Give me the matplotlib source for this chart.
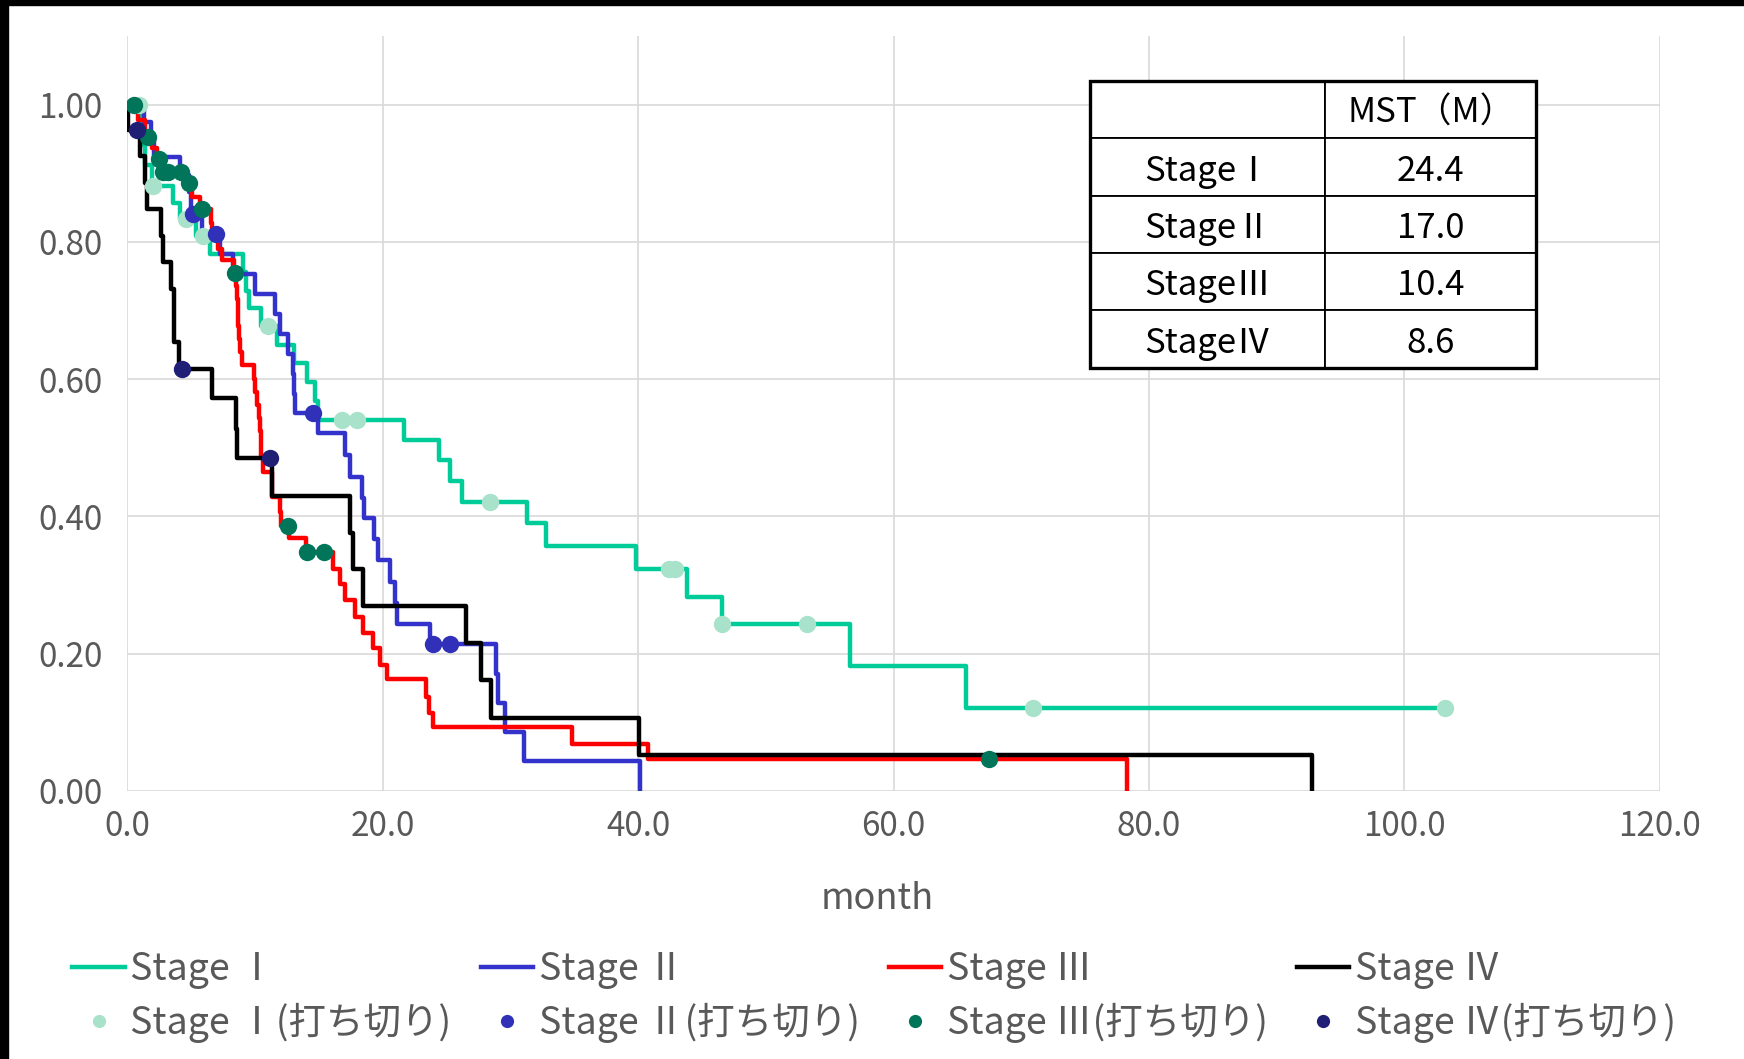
import numpy as np
import matplotlib.pyplot as plt
from matplotlib.lines import Line2D
from matplotlib.patches import Rectangle
from matplotlib.ticker import FormatStrFormatter

plt.rcParams['font.family'] = ['Noto Sans CJK JP', 'DejaVu Sans']

# Kaplan-Meier steps: event time (month) and survival after the step
t1 = [1.15, 1.2, 1.4, 1.9, 3.6, 4.13, 5.35, 6.48, 9.09, 9.3, 9.5, 10.5, 11.75, 13.08,
      14.05, 14.7, 14.96, 21.7, 24.4, 25.3, 26.2, 31.27, 32.8, 39.8, 43.85, 46.55, 56.6, 65.7]
s1 = [0.971, 0.941, 0.912, 0.882, 0.857, 0.833, 0.809, 0.782, 0.756, 0.729, 0.703, 0.677, 0.650, 0.623,
      0.596, 0.568, 0.541, 0.511, 0.482, 0.452, 0.421, 0.390, 0.357, 0.324, 0.283, 0.243, 0.182, 0.121]
end1 = 103.2

t2 = [1.3, 1.85, 2.1, 4.13, 4.8, 5.0, 5.85, 7.26, 8.3, 10.0, 11.57, 11.96, 12.6, 13.0, 13.05, 13.13,
      14.96, 17.05, 17.44, 18.4, 18.5, 19.3, 19.66, 20.57, 20.96, 21.1, 23.7, 28.87, 29.05, 29.58, 31.07, 40.15]
s2 = [0.974, 0.949, 0.923, 0.897, 0.872, 0.841, 0.811, 0.782, 0.753, 0.724, 0.695, 0.666, 0.637, 0.608, 0.579, 0.550,
      0.521, 0.489, 0.458, 0.427, 0.397, 0.367, 0.336, 0.305, 0.274, 0.244, 0.214, 0.171, 0.128, 0.086, 0.043, 0.0]

t3 = [0.8, 1.4, 1.9, 2.3, 2.6, 4.5, 5.1, 5.7, 6.55, 6.62, 7.1, 7.4, 8.33, 8.55, 8.6, 8.65, 8.7, 8.75, 8.8, 9.0,
      9.9, 10.0, 10.15, 10.3, 10.4, 10.45, 10.5, 10.6, 11.3, 11.35, 11.96, 12.0, 12.7, 14.0, 16.1, 16.66, 17.05,
      17.8, 18.48, 19.26, 19.79, 20.3, 23.37, 23.65, 23.9, 34.8, 40.8, 78.3]
s3 = [0.977, 0.953, 0.937, 0.920, 0.902, 0.885, 0.866, 0.848, 0.827, 0.806, 0.790, 0.773, 0.754, 0.735, 0.716,
      0.697, 0.678, 0.659, 0.639, 0.620, 0.600, 0.581, 0.562, 0.543, 0.524, 0.505, 0.487, 0.465, 0.447, 0.428,
      0.407, 0.386, 0.368, 0.348, 0.324, 0.302, 0.278, 0.254, 0.230, 0.208, 0.184, 0.163, 0.137, 0.114, 0.093,
      0.068, 0.046, 0.0]

t4 = [0.05, 0.99, 1.39, 1.55, 2.6, 2.8, 3.4, 3.62, 3.68, 4.02, 6.63, 8.49, 8.6, 11.3, 17.44, 17.65, 18.48,
      26.5, 27.7, 28.5, 40.1, 92.8]
s4 = [0.963, 0.925, 0.885, 0.848, 0.809, 0.770, 0.731, 0.692, 0.654, 0.615, 0.573, 0.528, 0.485, 0.430, 0.376,
      0.323, 0.269, 0.216, 0.162, 0.107, 0.053, 0.0]

# censored observations (打ち切り)
c1t = [0.94, 2.0, 4.6, 5.95, 11.04, 16.8, 18.0, 28.4, 42.4, 42.9, 46.6, 53.2, 70.9, 103.2]
c1s = [1.0, 0.882, 0.833, 0.809, 0.677, 0.541, 0.541, 0.421, 0.324, 0.324, 0.243, 0.243, 0.121, 0.121]
c2t = [5.15, 6.95, 14.57, 23.95, 25.27]
c2s = [0.841, 0.811, 0.550, 0.214, 0.214]
c3t = [0.49, 1.6, 2.48, 2.83, 3.19, 4.23, 4.84, 5.88, 8.41, 12.6, 14.07, 15.38, 67.5]
c3s = [1.0, 0.953, 0.920, 0.902, 0.902, 0.902, 0.885, 0.848, 0.754, 0.386, 0.348, 0.348, 0.046]
c4t = [0.73, 4.3, 11.2]
c4s = [0.963, 0.615, 0.485]

stages = ['Stage Ⅰ', 'Stage Ⅱ', 'Stage Ⅲ', 'Stage Ⅳ']
mst_rows = ['StageⅠ', 'StageⅡ', 'StageⅢ', 'StageⅣ']
mst_vals = ['24.4', '17.0', '10.4', '8.6']

line_colors = ['#00CC99', '#3333CC', '#FF0000', '#000000']
cens_colors = ['#A8E2CA', '#3030B8', '#00755A', '#1F1F75']

W, H = 1744, 1059
fig = plt.figure(figsize=(W / 100, H / 100), dpi=100)
ax = fig.add_axes([127.3 / W, 268 / H, 1532.4 / W, 755.1 / H])

curves = [(t1, s1), (t2, s2), (t3, s3), (t4, s4)]
for i, (t, s) in enumerate(curves):
    tt = np.r_[0, t]
    ss = np.r_[1.0, s]
    if i == 0:
        tt = np.r_[tt, end1]
        ss = np.r_[ss, s[-1]]
    ax.step(tt, ss, where='post', color=line_colors[i], lw=3.2, zorder=3)

cens = [(c1t, c1s), (c2t, c2s), (c3t, c3s), (c4t, c4s)]
for i, (t, s) in enumerate(cens):
    ax.plot(t, s, 'o', color=cens_colors[i], ms=12.5, mec='none', zorder=4 + i)

ax.set_xlim(0, 120)
ax.set_ylim(0, 1.1)
ax.set_xticks(np.arange(0, 121, 20))
ax.set_yticks(np.arange(0, 1.01, 0.2))
ax.xaxis.set_major_formatter(FormatStrFormatter('%.1f'))
ax.yaxis.set_major_formatter(FormatStrFormatter('%.2f'))
ax.grid(True, color='#D9D9D9', lw=1.2)
ax.set_axisbelow(True)
for sp in ax.spines.values():
    sp.set_visible(False)
ax.tick_params(length=0, labelsize=24, colors='#595959')
ax.tick_params(axis='y', pad=18)
ax.tick_params(axis='x', pad=13)
ax.set_xlabel('month', fontsize=26, color='#595959')
ax.xaxis.label.set_va('center')
ax.xaxis.set_label_coords((877.5 - 127.3) / 1532.4, -(898.7 - 791) / 755.1)

# legend: one column per stage, line on top and censor marker below
col_x = [72.3, 480.5, 888.7, 1296.9]
for i in range(4):
    h = [Line2D([], [], color=line_colors[i], lw=3.2),
         Line2D([], [], ls='none', marker='o', color=cens_colors[i], ms=9.5, mec='none')]
    fig.legend(h, [stages[i], stages[i] + '(打ち切り)'], loc='upper left',
               bbox_to_anchor=(col_x[i] / W, 1 - 950 / H), frameon=False, fontsize=27,
               handlelength=1.4, handletextpad=0.15, borderpad=0, borderaxespad=0,
               labelspacing=0.38, labelcolor='#595959')

# MST table
tab_ax = fig.add_axes([1090 / W, 1 - 367.7 / H, 446 / W, 286.7 / H])
tab_ax.axis('off')
cell_text = [['', 'MST（M）']] + [[r, v] for r, v in zip(mst_rows, mst_vals)]
tbl = tab_ax.table(cellText=cell_text, cellLoc='center', bbox=[0, 0, 1, 1], colWidths=[0.528, 0.472])
tbl.auto_set_font_size(False)
tbl.set_fontsize(25)
for cell in tbl.get_celld().values():
    cell.set_linewidth(1.3)
    cell.set_edgecolor('black')
    cell.get_text().set_va('center_baseline')
tab_ax.add_patch(Rectangle((0, 0), 1, 1, transform=tab_ax.transAxes, fill=False,
                           lw=2.4, ec='black', clip_on=False))

# dark frame along the top and left edge
fig.add_artist(Rectangle((0, 0), 8 / W, 1, transform=fig.transFigure, color='black'))
fig.add_artist(Rectangle((0, 1 - 5 / H), 1, 5 / H, transform=fig.transFigure, color='black'))

fig.savefig('out.png', dpi=100)
